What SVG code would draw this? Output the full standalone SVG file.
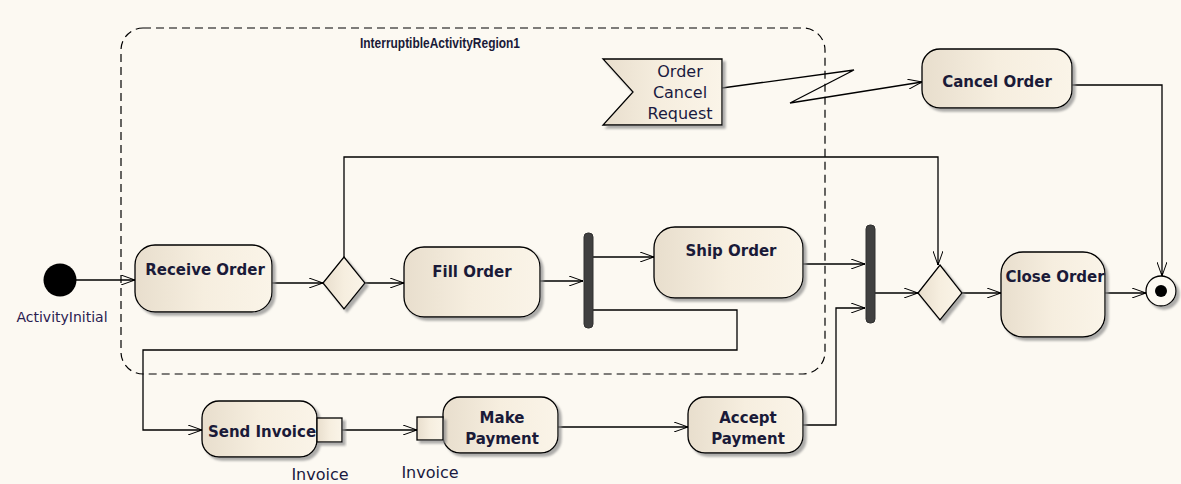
<svg xmlns="http://www.w3.org/2000/svg" width="1181" height="484" viewBox="0 0 1181 484">
<defs>
<linearGradient id="g" x1="0" y1="0" x2="1" y2="0">
<stop offset="0" stop-color="#E8DECD"/>
<stop offset="0.5" stop-color="#F6EEDF"/>
<stop offset="1" stop-color="#FAF4E8"/>
</linearGradient>
<filter id="sh" x="-10%" y="-10%" width="130%" height="140%">
<feDropShadow dx="3" dy="3" stdDeviation="1.2" flood-color="#8a8a8a" flood-opacity="0.7"/>
</filter>
<marker id="ar" viewBox="0 0 15 10" refX="14" refY="5" markerWidth="15" markerHeight="10" markerUnits="userSpaceOnUse" orient="auto">
<path d="M0,0 L14,5 L0,10" fill="none" stroke="#000" stroke-width="1"/>
<rect x="11" y="4" width="3" height="2" fill="#000"/>
</marker>
</defs>
<style>
.n{fill:url(#g);stroke:#000;stroke-width:1.3;filter:url(#sh)}
.t{font-family:"DejaVu Sans",sans-serif;font-weight:bold;font-size:15px;fill:#1a1a38;text-anchor:middle}
.r{font-family:"DejaVu Sans",sans-serif;font-size:16px;fill:#1a1a40;text-anchor:middle}
.c{fill:none;stroke:#000;stroke-width:1.3}
.a{marker-end:url(#ar)}
.bar{fill:#404040;stroke:#303030}
</style>
<rect width="1181" height="484" fill="#FCF9F2"/>

<g id="region">
<rect x="121" y="28" width="704" height="346" rx="22" fill="none" stroke="#000" stroke-width="1.2" stroke-dasharray="8,5"/>
<text x="360" y="48" font-family="Liberation Sans, sans-serif" font-weight="bold" font-size="14" fill="#1a1a38" textLength="160" lengthAdjust="spacingAndGlyphs">InterruptibleActivityRegion1</text>
</g>

<g id="connectors">
<line class="c a" x1="76" y1="280" x2="135" y2="280"/>
<line class="c a" x1="272" y1="283" x2="323" y2="283"/>
<line class="c a" x1="365" y1="283" x2="404" y2="283"/>
<line class="c a" x1="540" y1="281" x2="583" y2="281"/>
<line class="c a" x1="593" y1="257" x2="654" y2="257"/>
<polyline class="c a" points="593,310 737,310 737,350 143,350 143,430 202,430"/>
<polyline class="c a" points="344,257 344,157 938,157 938,265"/>
<line class="c a" x1="803" y1="264" x2="865" y2="264"/>
<line class="c a" x1="875" y1="293" x2="918" y2="293"/>
<line class="c a" x1="962" y1="293" x2="1001" y2="293"/>
<line class="c a" x1="1105" y1="293" x2="1146" y2="293"/>
<polyline class="c a" points="1072,85 1162,85 1162,276"/>
<polyline class="c a" points="722,88 854,70 790,103 922,82"/>
<line class="c a" x1="342" y1="430" x2="417" y2="430"/>
<line class="c a" x1="558" y1="427" x2="688" y2="427"/>
<polyline class="c a" points="803,425 836,425 836,308 865,308"/>
</g>

<g id="initial">
<circle cx="60" cy="280" r="16.5" fill="#000"/>
<text x="62" y="322" font-family="DejaVu Sans, sans-serif" font-size="14" fill="#2a2050" text-anchor="middle">ActivityInitial</text>
</g>

<g id="receive-order">
<rect class="n" x="135" y="245" width="137" height="67" rx="20"/>
<text class="t" x="205" y="275">Receive Order</text>
</g>

<g id="decision1">
<polygon class="n" points="344,257 365,283 344,309 323,283"/>
</g>

<g id="fill-order">
<rect class="n" x="404" y="247" width="136" height="70" rx="20"/>
<text class="t" x="472" y="277">Fill Order</text>
</g>

<g id="fork">
<rect class="bar" x="584" y="233" width="9" height="95" rx="4"/>
</g>

<g id="ship-order">
<rect class="n" x="654" y="227" width="149" height="71" rx="21"/>
<text class="t" x="731" y="256">Ship Order</text>
</g>

<g id="join">
<rect class="bar" x="866" y="225" width="9" height="98" rx="4"/>
</g>

<g id="decision2">
<polygon class="n" points="940,265 962,293 940,320 918,293"/>
</g>

<g id="close-order">
<rect class="n" x="1001" y="252" width="104" height="85" rx="22"/>
<text class="t" x="1055" y="282">Close Order</text>
</g>

<g id="final">
<circle cx="1161" cy="291" r="15" fill="#FCF9F2" stroke="#000" stroke-width="1.3" filter="url(#sh)"/>
<circle cx="1161" cy="291" r="6" fill="#000"/>
</g>

<g id="order-cancel-request">
<polygon class="n" points="603,59 722,59 722,125 603,125 633,92"/>
<text class="r" x="680" y="77">Order</text>
<text class="r" x="680" y="98">Cancel</text>
<text class="r" x="680" y="119">Request</text>
</g>

<g id="cancel-order">
<rect class="n" x="922" y="49" width="150" height="59" rx="18"/>
<text class="t" x="997" y="87">Cancel Order</text>
</g>

<g id="send-invoice">
<rect class="n" x="202" y="401" width="115" height="56" rx="17"/>
<rect class="n" x="317" y="418" width="25" height="24"/>
<text class="t" x="262" y="437">Send Invoice</text>
<text class="r" x="320" y="480" fill="#2a2050">Invoice</text>
</g>

<g id="make-payment">
<rect class="n" x="443" y="397" width="115" height="56" rx="17"/>
<rect class="n" x="417" y="417" width="26" height="23"/>
<text class="t" x="502" y="423">Make</text>
<text class="t" x="502" y="444">Payment</text>
<text class="r" x="430" y="478" fill="#2a2050">Invoice</text>
</g>

<g id="accept-payment">
<rect class="n" x="688" y="397" width="115" height="56" rx="17"/>
<text class="t" x="748" y="423">Accept</text>
<text class="t" x="748" y="444">Payment</text>
</g>
</svg>
